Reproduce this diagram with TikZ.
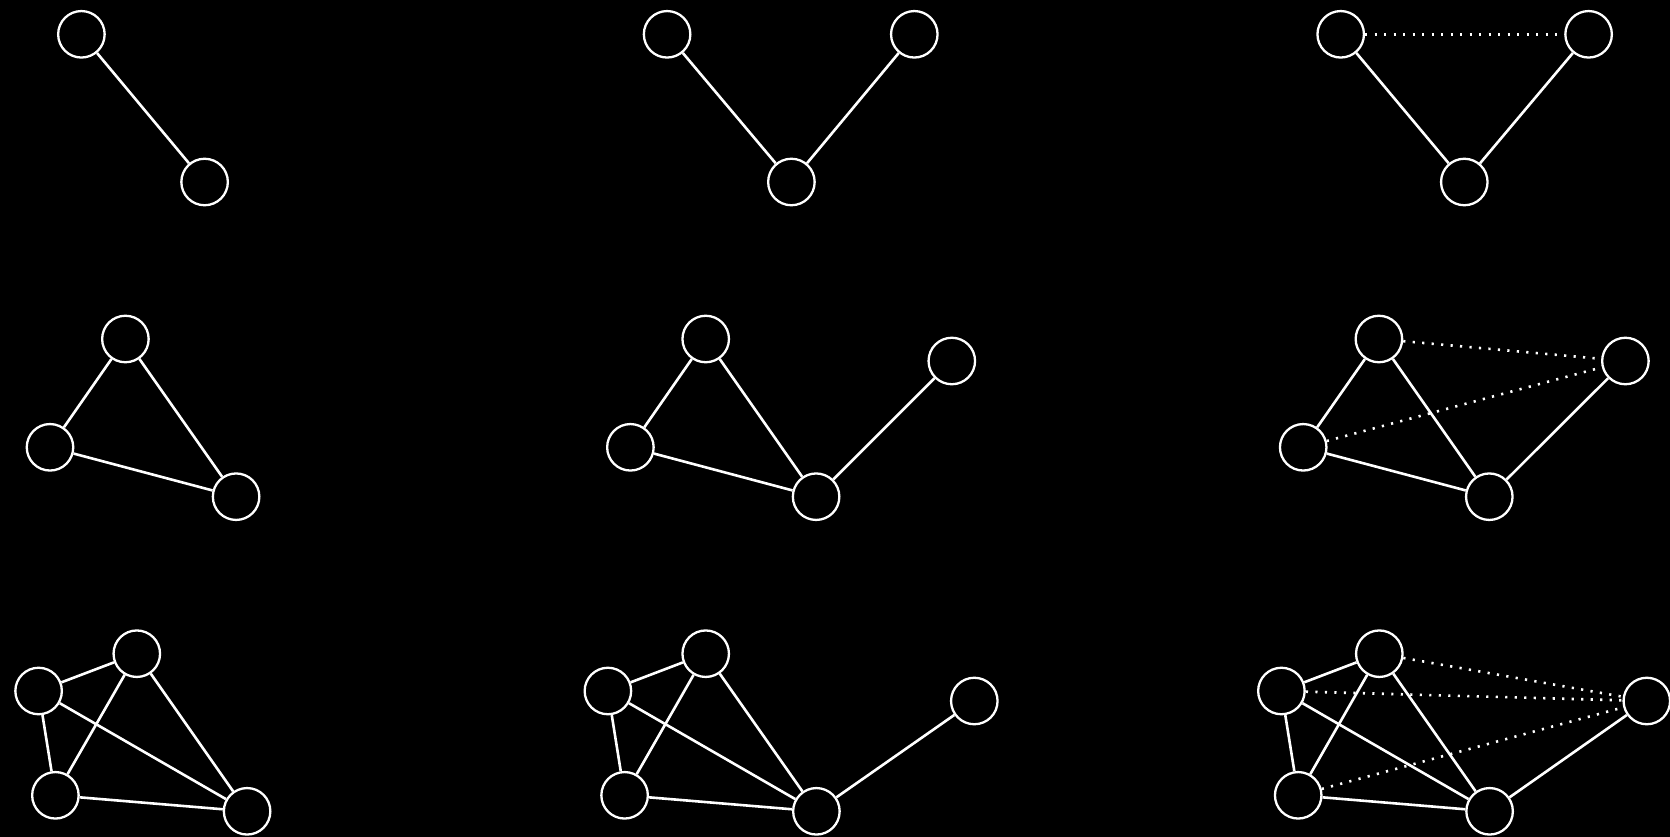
\documentclass[tikz,border=0pt]{standalone}
\begin{document}
\begin{tikzpicture}[x=1pt,y=-1pt,
  vtx/.style={circle,draw=white,line width=2.3pt,minimum size=46.5pt,inner sep=0pt},
  edge/.style={draw=white,line width=2.6pt},
  dotedge/.style={draw=white,line width=2.6pt,dash pattern=on 2.2pt off 7.3pt}]
\fill[black] (0,0) rectangle (1670,837);
\useasboundingbox (0,0) rectangle (1670,837);
% row 1
\node[vtx] (a1) at (81.4,34.3) {};
\node[vtx] (a2) at (204.6,182) {};
\draw[edge] (a1) -- (a2);
\node[vtx] (b1) at (667.1,34.3) {};
\node[vtx] (b2) at (914.3,34.3) {};
\node[vtx] (b3) at (791.4,182) {};
\draw[edge] (b1) -- (b3);
\draw[edge] (b2) -- (b3);
\node[vtx] (c1) at (1340.7,34.3) {};
\node[vtx] (c2) at (1588.6,34.3) {};
\node[vtx] (c3) at (1464.3,182) {};
\draw[edge] (c1) -- (c3);
\draw[edge] (c2) -- (c3);
\draw[dotedge] (c1) -- (c2);
% row 2
\node[vtx] (d1) at (125.4,339) {};
\node[vtx] (d2) at (50,447.3) {};
\node[vtx] (d3) at (236.1,496.7) {};
\draw[edge] (d1) -- (d2);
\draw[edge] (d1) -- (d3);
\draw[edge] (d2) -- (d3);
\node[vtx] (e1) at (705.7,339) {};
\node[vtx] (e2) at (630.4,447.3) {};
\node[vtx] (e3) at (816.1,496.7) {};
\node[vtx] (e4) at (951.8,361) {};
\draw[edge] (e1) -- (e2);
\draw[edge] (e1) -- (e3);
\draw[edge] (e2) -- (e3);
\draw[edge] (e3) -- (e4);
\node[vtx] (f1) at (1378.9,339) {};
\node[vtx] (f2) at (1303.2,447.3) {};
\node[vtx] (f3) at (1489.3,496.7) {};
\node[vtx] (f4) at (1625.4,361) {};
\draw[edge] (f1) -- (f2);
\draw[edge] (f1) -- (f3);
\draw[edge] (f2) -- (f3);
\draw[edge] (f3) -- (f4);
\draw[dotedge] (f1) -- (f4);
\draw[dotedge] (f2) -- (f4);
% row 3
\node[vtx] (g1) at (136.8,653.7) {};
\node[vtx] (g2) at (38.6,691) {};
\node[vtx] (g3) at (55.4,795.3) {};
\node[vtx] (g4) at (247.1,811.3) {};
\draw[edge] (g1) -- (g2);
\draw[edge] (g1) -- (g3);
\draw[edge] (g1) -- (g4);
\draw[edge] (g2) -- (g3);
\draw[edge] (g2) -- (g4);
\draw[edge] (g3) -- (g4);
\node[vtx] (h1) at (705.7,653.7) {};
\node[vtx] (h2) at (607.9,691) {};
\node[vtx] (h3) at (624.6,795.3) {};
\node[vtx] (h4) at (816.4,811.3) {};
\node[vtx] (h5) at (974.3,701) {};
\draw[edge] (h1) -- (h2);
\draw[edge] (h1) -- (h3);
\draw[edge] (h1) -- (h4);
\draw[edge] (h2) -- (h3);
\draw[edge] (h2) -- (h4);
\draw[edge] (h3) -- (h4);
\draw[edge] (h4) -- (h5);
\node[vtx] (i1) at (1379.3,653.7) {};
\node[vtx] (i2) at (1281.4,691) {};
\node[vtx] (i3) at (1298.2,795.3) {};
\node[vtx] (i4) at (1489.6,811.3) {};
\node[vtx] (i5) at (1646.8,701) {};
\draw[edge] (i1) -- (i2);
\draw[edge] (i1) -- (i3);
\draw[edge] (i1) -- (i4);
\draw[edge] (i2) -- (i3);
\draw[edge] (i2) -- (i4);
\draw[edge] (i3) -- (i4);
\draw[edge] (i4) -- (i5);
\draw[dotedge] (i1) -- (i5);
\draw[dotedge] (i2) -- (i5);
\draw[dotedge] (i3) -- (i5);
\end{tikzpicture}
\end{document}
